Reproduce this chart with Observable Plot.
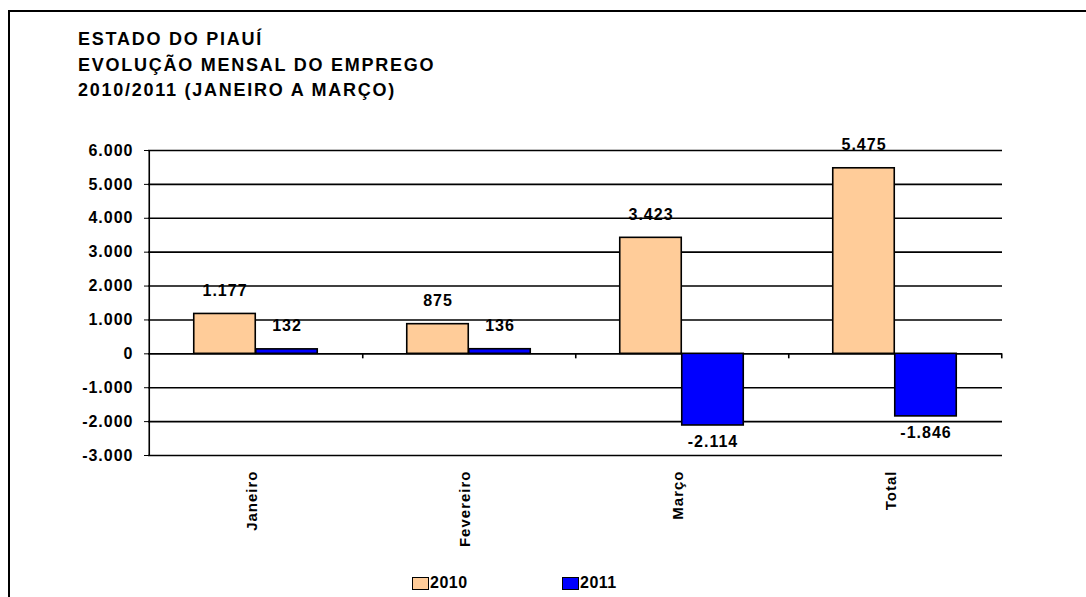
<!DOCTYPE html>
<html>
<head>
<meta charset="utf-8">
<script src="https://cdn.jsdelivr.net/npm/d3@7"></script>
<script src="https://cdn.jsdelivr.net/npm/@observablehq/plot@0.6"></script>
<style>
  html, body { margin: 0; padding: 0; background: #fff; }
  body { width: 1086px; height: 597px; overflow: hidden; position: relative;
         font-family: "Liberation Sans", Arial, sans-serif; color: #000; }
  #frame { position: absolute; left: 8px; top: 10px; width: 1200px; height: 700px;
           border: 2px solid #000; box-sizing: border-box; }
  #title { position: absolute; left: 78px; top: 27px; font-weight: bold; font-size: 18px;
           line-height: 25.5px; letter-spacing: 1.75px; white-space: nowrap; }
  #chart { position: absolute; left: 0; top: 0; }
  .leg { position: absolute; top: 575px; font-weight: bold; font-size: 16px; line-height: 16px;
         letter-spacing: 0.5px; display: flex; align-items: center; }
  .sw { display: inline-block; width: 15px; height: 11px; border: 1.5px solid #000; margin-right: 1px; }
</style>
</head>
<body>
<div id="frame"></div>
<div id="title">ESTADO DO PIAUÍ<br>EVOLUÇÃO MENSAL DO EMPREGO<br>2010/2011 (JANEIRO A MARÇO)</div>
<div id="chart"></div>
<div id="legend"></div>
<script>
const categories = ["Janeiro", "Fevereiro", "Março", "Total"];
const seriesNames = ["2010", "2011"];
const values2010 = [1177, 875, 3423, 5475];
const values2011 = [132, 136, -2114, -1846];
const yTicks = [-3000, -2000, -1000, 0, 1000, 2000, 3000, 4000, 5000, 6000];
const seriesColors = ["#FFCC99", "#0000FF"];

const rows2010 = categories.map((c, i) => ({category: c, series: seriesNames[0], value: values2010[i]}));
const rows2011 = categories.map((c, i) => ({category: c, series: seriesNames[1], value: values2011[i]}));

const fmt = d3.formatLocale({decimal: ",", thousands: ".", grouping: [3], currency: ["R$", ""], minus: "-"}).format(",d");

const W = 1086, H = 560;
const mL = 148, mR = 84, mT = 150, mB = 105;
const bw = (W - mL - mR) / categories.length;
const barW = 62;

const chart = Plot.plot({
  width: W, height: H,
  marginLeft: mL, marginRight: mR, marginTop: mT, marginBottom: mB,
  style: {fontFamily: '"Liberation Sans", Arial, sans-serif', fontSize: "15px", fontWeight: "bold",
          color: "#000", background: "transparent", overflow: "visible", letterSpacing: "1px"},
  x: {domain: categories, padding: 0},
  y: {domain: [-3000, 6000]},
  color: {domain: seriesNames, range: seriesColors},
  marks: [
    Plot.axisX({tickRotate: -90, tickSize: 0, tickPadding: 15, dx: -4, label: null, fontSize: 15}),
    Plot.axisY({ticks: yTicks, tickFormat: fmt, tickSize: 4, tickPadding: 11, label: null, fontSize: 16}),
    Plot.ruleY(yTicks, {stroke: "#000", strokeWidth: 1.6}),
    Plot.ruleX([categories[0]], {dx: -bw / 2, stroke: "#000", strokeWidth: 1.6}),
    Plot.ruleX(categories, {y1: 0, y2: 0, insetBottom: -5, dx: bw / 2, stroke: "#000", strokeWidth: 1.6}),
    Plot.barY(rows2010, {x: "category", y: "value", fill: "series", stroke: "#000", strokeWidth: 1.6,
      insetLeft: bw / 2 - barW, insetRight: bw / 2}),
    Plot.barY(rows2011, {x: "category", y: "value", fill: "series", stroke: "#000", strokeWidth: 1.6,
      insetLeft: bw / 2, insetRight: bw / 2 - barW}),
    Plot.text(rows2010.filter(d => d.value >= 0), {x: "category", y: "value", text: d => fmt(d.value),
      dx: -barW / 2, dy: -23, fontSize: 16, fontWeight: "bold", fill: "#000"}),
    Plot.text(rows2011.filter(d => d.value >= 0), {x: "category", y: "value", text: d => fmt(d.value),
      dx: barW / 2, dy: -23, fontSize: 16, fontWeight: "bold", fill: "#000"}),
    Plot.text(rows2011.filter(d => d.value < 0), {x: "category", y: "value", text: d => fmt(d.value),
      dx: barW / 2, dy: 16, fontSize: 16, fontWeight: "bold", fill: "#000"})
  ]
});
document.getElementById("chart").appendChild(chart);

const legendLeft = [412, 562];
const legend = document.getElementById("legend");
seriesNames.forEach((s, i) => {
  const item = document.createElement("div");
  item.className = "leg";
  item.style.left = legendLeft[i] + "px";
  item.innerHTML = `<span class="sw" style="background:${seriesColors[i]}"></span>${s}`;
  legend.appendChild(item);
});
</script>
</body>
</html>
